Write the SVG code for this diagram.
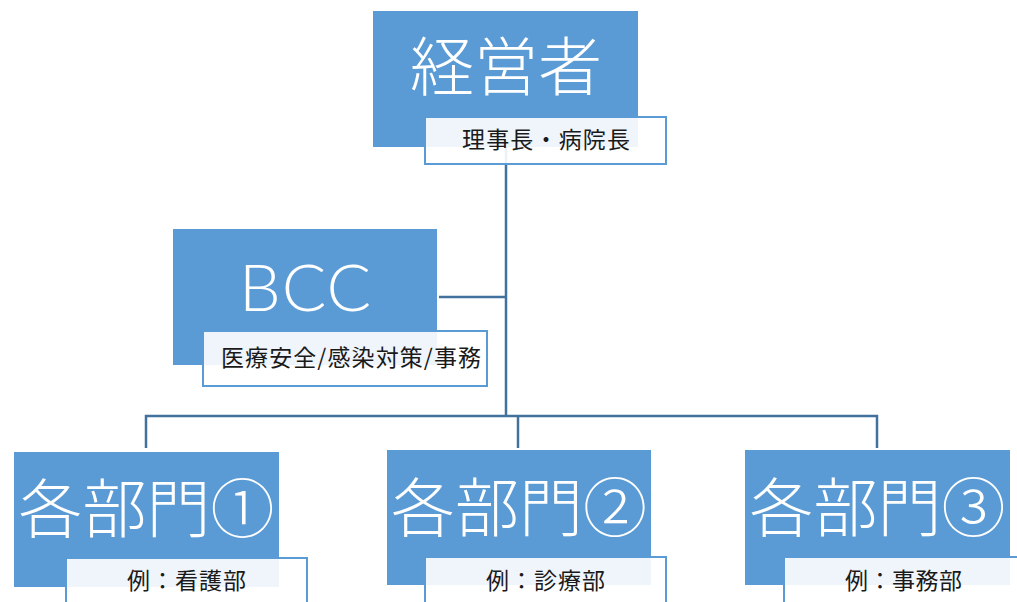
<svg xmlns="http://www.w3.org/2000/svg" width="1017" height="602" viewBox="0 0 1017 602">
<style>
.box{fill:#5B9BD5}
.lbl{fill:#FFFFFF;fill-opacity:0.9;stroke:#5B9BD5;stroke-width:2}
.title{fill:#FFFFFF;font-family:"Noto Sans CJK JP","Noto Sans CJK SC",sans-serif;font-weight:300;font-size:64px;text-anchor:middle;dominant-baseline:central}
.latin{fill:#FFFFFF;font-family:"Lato","Noto Sans",sans-serif;font-weight:300;font-size:66px;text-anchor:middle}
.sub{fill:#1A1A1A;font-family:"Noto Sans CJK JP","Noto Sans CJK SC",sans-serif;font-size:23px;text-anchor:middle;dominant-baseline:central}
.conn{fill:none;stroke:#41719C;stroke-width:2.5}
</style>
<rect width="1017" height="602" fill="#FFFFFF"/>
<g id="connectors">
<polyline class="conn" points="506,147 506,416"/>
<polyline class="conn" points="439,297 506,297"/>
<polyline class="conn" points="146,448 146,416 877,416 877,448"/>
<polyline class="conn" points="518,416 518,448"/>
</g>
<g id="node-keieisha">
<rect class="box" x="373" y="11" width="265" height="136"/>
<text class="title" x="506" y="62">経営者</text>
<rect class="lbl" x="425" y="117" width="241" height="47"/>
<text class="sub" x="546" y="137.5" textLength="168" lengthAdjust="spacing">理事長・病院長</text>
</g>
<g id="node-bcc">
<rect class="box" x="173" y="229" width="264" height="136"/>
<text class="latin" x="305" y="311" textLength="132" lengthAdjust="spacing">BCC</text>
<rect class="lbl" x="203" y="331" width="284" height="55"/>
<text class="sub" x="351" y="355.5" textLength="260" lengthAdjust="spacing">医療安全/感染対策/事務</text>
</g>
<g id="node-bumon1">
<rect class="box" x="14" y="452" width="265" height="135"/>
<text class="title" x="146.5" y="504">各部門①</text>
<rect class="lbl" x="66" y="558" width="241" height="60"/>
<text class="sub" x="186.5" y="579" textLength="119" lengthAdjust="spacing">例：看護部</text>
</g>
<g id="node-bumon2">
<rect class="box" x="387" y="450" width="264" height="135"/>
<text class="title" x="519" y="503">各部門②</text>
<rect class="lbl" x="425" y="557" width="241" height="60"/>
<text class="sub" x="545.5" y="578.5" textLength="119" lengthAdjust="spacing">例：診療部</text>
</g>
<g id="node-bumon3">
<rect class="box" x="745" y="450" width="265" height="135"/>
<text class="title" x="877.5" y="503">各部門③</text>
<rect class="lbl" x="784" y="557" width="242" height="60"/>
<text class="sub" x="903.5" y="579" textLength="117" lengthAdjust="spacing">例：事務部</text>
</g>
</svg>
